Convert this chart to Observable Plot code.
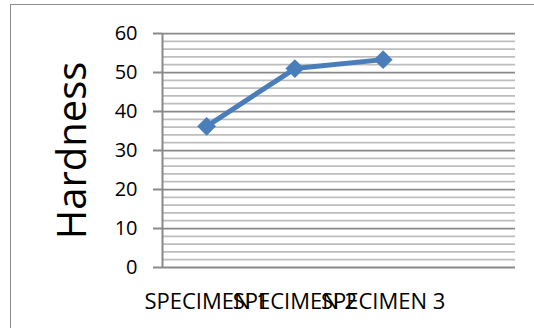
<!DOCTYPE html>
<html>
<head>
<meta charset="utf-8">
<script src="https://cdn.jsdelivr.net/npm/d3@7"></script>
<script src="https://cdn.jsdelivr.net/npm/@observablehq/plot@0.6"></script>
<style>
  html, body { margin: 0; padding: 0; background: white; }
  #wrap { position: relative; width: 534px; height: 328px; overflow: hidden; }
  #border { position: absolute; left: 10px; top: 4px; width: 600px; height: 400px;
            border: 1.5px solid #8c8c8c; pointer-events: none; }
</style>
</head>
<body>
<div id="wrap"><div id="border"></div></div>
<script>
const categories = ["SPECIMEN 1", "SPECIMEN 2", "SPECIMEN 3"];
const hardness = [36.2, 51, 53.3];
const yTickValues = [0, 10, 20, 30, 40, 50, 60];
const minorGrid = [2, 4, 6, 8, 12, 14, 16, 18, 22, 24, 26, 28, 32, 34, 36, 38, 42, 44, 46, 48, 52, 54, 56, 58];
const majorGrid = [10, 20, 30, 40, 50, 60];
const xSlots = [1, 2, 3];
const yTitle = "Hardness";

const rows = categories.map((c, i) => ({slot: xSlots[i], name: c, value: hardness[i]}));

const chart = Plot.plot({
  width: 534,
  height: 328,
  marginLeft: 162,
  marginRight: 19,
  marginTop: 33,
  marginBottom: 61,
  style: {fontFamily: "'Open Sans', sans-serif", background: "transparent", overflow: "visible", color: "black"},
  x: {domain: [0.5, 4.5]},
  y: {domain: [0, 60]},
  marks: [
    Plot.ruleY(minorGrid, {stroke: "#bdbdbd", strokeWidth: 1.75}),
    Plot.ruleY(majorGrid, {stroke: "#898989", strokeWidth: 1.75}),
    Plot.ruleY([0], {stroke: "#898989", strokeWidth: 2}),
    Plot.ruleX([0.5], {stroke: "#898989", strokeWidth: 2}),
    Plot.axisY({ticks: yTickValues, tickSize: 9, tickPadding: 16, stroke: "#898989", strokeWidth: 2, fill: "black", fontSize: 20, label: null}),
    Plot.axisX({ticks: xSlots, tickFormat: i => categories[i - 1], tickSize: 0, tickPadding: 26, fill: "black", fontSize: 22, label: null}),
    Plot.text([yTitle], {frameAnchor: "left", dx: -77, rotate: -90, textAnchor: "middle", lineAnchor: "bottom", fontSize: 40, fill: "black"}),
    Plot.line(rows, {x: "slot", y: "value", stroke: "#4a7ebb", strokeWidth: 5}),
    Plot.dot(rows, {x: "slot", y: "value", symbol: "diamond2", r: 8.5, fill: "#4a7ebb", stroke: "none"})
  ]
});
document.getElementById("wrap").appendChild(chart);
chart.style.position = "absolute";
chart.style.left = "0";
chart.style.top = "0";
</script>
</body>
</html>
